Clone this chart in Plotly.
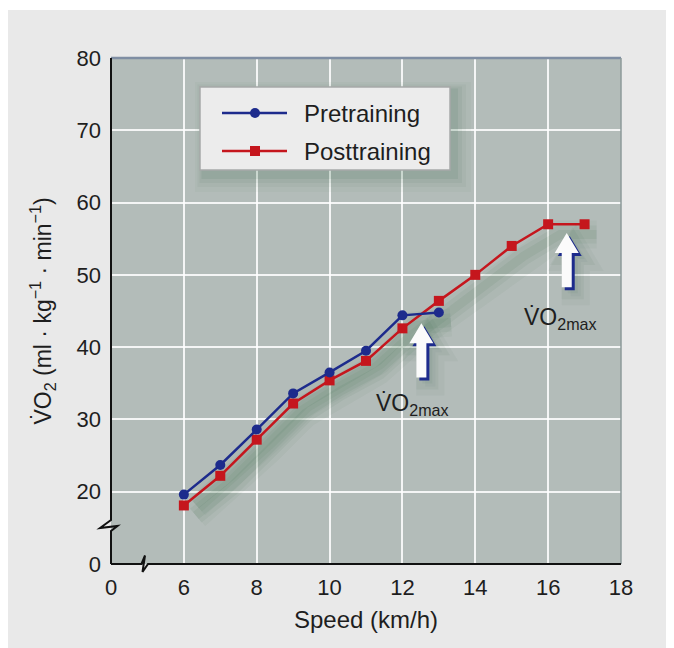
import plotly.graph_objects as go

# ---- data ----
speed_pre = [6, 7, 8, 9, 10, 11, 12, 13]
vo2_pre = [19.6, 23.7, 28.6, 33.6, 36.5, 39.5, 44.4, 44.8]
speed_post = [6, 7, 8, 9, 10, 11, 12, 13, 14, 15, 16, 17]
vo2_post = [18.1, 22.2, 27.2, 32.2, 35.4, 38.1, 42.6, 46.4, 50.0, 54.0, 57.0, 57.0]

x_tickvals = [4, 6, 8, 10, 12, 14, 16, 18]
x_ticktext = ["0", "6", "8", "10", "12", "14", "16", "18"]
y_tickvals = [10, 20, 30, 40, 50, 60, 70, 80]
y_ticktext = ["0", "20", "30", "40", "50", "60", "70", "80"]

vo2max_speed = [12.52, 16.51]
vo2max_tip = [43.3, 55.8]
vo2max_tail = [35.8, 48.3]
label_x = [12.29, 16.35]
label_y = [32.0, 44.0]

series_names = ["Pretraining", "Posttraining"]

# ---- layout geometry (screen px of the reference; page has an 8px body margin) ----
OFF = 8
FW, FH = 666, 640
L, R, T, B = 103, 53, 50, 84
W, H = FW - L - R, FH - T - B
XMIN, XMAX, YMIN, YMAX = 4, 18, 10, 80

BLUE = "#1d2b8c"
RED = "#c5161d"
FONT = "Liberation Sans, Arial, Helvetica, sans-serif"
TXT = "#1e1e1e"


def px2x(p):
    return (p - OFF - L) / W


def py2y(p):
    return (FH - B - (p - OFF)) / H


def dpx(x):
    return OFF + L + (x - XMIN) / (XMAX - XMIN) * W


def dpy(y):
    return OFF + T + (YMAX - y) / (YMAX - YMIN) * H


def path_px(points):
    return "M " + " L ".join(f"{px2x(a):.5f},{py2y(b):.5f}" for a, b in points) + " Z"


def open_path_px(points):
    return "M " + " L ".join(f"{px2x(a):.5f},{py2y(b):.5f}" for a, b in points)


fig = go.Figure()

# soft drop shadows under the lines
for w, a in [(28, 0.035), (18, 0.05), (9, 0.06)]:
    for xs, ys in [(speed_post, vo2_post), (speed_pre, vo2_pre)]:
        fig.add_trace(go.Scatter(
            x=[s + 0.33 for s in xs], y=[v - 1.4 for v in ys], mode="lines",
            line=dict(color=f"rgba(20,80,40,{a})", width=w),
            hoverinfo="skip", showlegend=False))

fig.add_trace(go.Scatter(
    x=speed_post, y=vo2_post, mode="lines+markers", name=series_names[1],
    line=dict(color=RED, width=2.5),
    marker=dict(symbol="square", size=10, color=RED, line=dict(width=0)),
    showlegend=False))
fig.add_trace(go.Scatter(
    x=speed_pre, y=vo2_pre, mode="lines+markers", name=series_names[0],
    line=dict(color=BLUE, width=2.5),
    marker=dict(symbol="circle", size=10, color=BLUE, line=dict(width=0)),
    showlegend=False))

shapes = []

# thin white strip at the top of the page
shapes.append(dict(type="rect", xref="paper", yref="paper", x0=px2x(OFF), x1=px2x(OFF + FW),
                   y0=py2y(OFF), y1=py2y(10), fillcolor="white", line=dict(width=0), layer="below"))

# plot frame: top and right thin borders
shapes.append(dict(type="line", xref="paper", yref="paper", x0=0, x1=1, y0=1, y1=1,
                   line=dict(color="#7f8ea3", width=2.5)))
shapes.append(dict(type="line", xref="paper", yref="paper", x0=1, x1=1, y0=0, y1=1,
                   line=dict(color="#8c9a9a", width=1.5)))

# broken axes
AX, AY = OFF + L, OFF + T + H
shapes.append(dict(type="path", xref="paper", yref="paper",
                   path=open_path_px([(AX, OFF + T), (AX, 520), (100, 528), (117.5, 526), (AX, 531), (AX, AY)]),
                   line=dict(color="#111111", width=2)))
shapes.append(dict(type="path", xref="paper", yref="paper",
                   path=open_path_px([(AX, AY), (141.5, AY), (145, 555.5), (142.5, 572),
                                      (148, AY), (AX + W, AY)]),
                   line=dict(color="#111111", width=2)))

# VO2max arrows
for xv, tip, tail in zip(vo2max_speed, vo2max_tip, vo2max_tail):
    X, Yt, Yb = dpx(xv), dpy(tip), dpy(tail)
    hw, hh, sw = 12, 20, 5
    pts = [(X, Yt), (X + hw, Yt + hh), (X + sw, Yt + hh), (X + sw, Yb),
           (X - sw, Yb), (X - sw, Yt + hh), (X - hw, Yt + hh)]
    for g, a in [(9, 0.04), (6, 0.05)]:
        spts = [(p[0] + g, p[1] + g) for p in pts]
        shapes.append(dict(type="path", xref="paper", yref="paper", path=path_px(spts),
                           fillcolor=f"rgba(20,80,40,{a})",
                           line=dict(width=g * 2, color=f"rgba(20,80,40,{a})")))
    bpts = [(p[0] + 3, p[1] + 3) for p in pts]
    shapes.append(dict(type="path", xref="paper", yref="paper", path=path_px(bpts),
                       fillcolor=BLUE, line=dict(width=0)))
    shapes.append(dict(type="path", xref="paper", yref="paper", path=path_px(pts),
                       fillcolor="#fbfbfb", line=dict(width=0)))

# legend box with shadow
LX0, LY0, LX1, LY1 = 200, 87, 450, 170
for g, a in [(18, 0.03), (13, 0.04), (9, 0.05), (5, 0.07)]:
    shapes.append(dict(type="rect", xref="paper", yref="paper",
                       x0=px2x(LX0 + 4 - g / 2), x1=px2x(LX1 + 3 + g), y0=py2y(LY1 + 4 + g),
                       y1=py2y(LY0 + 4 - g / 2), fillcolor=f"rgba(20,80,40,{a})", line=dict(width=0)))
shapes.append(dict(type="rect", xref="paper", yref="paper",
                   x0=px2x(LX0), x1=px2x(LX1), y0=py2y(LY1), y1=py2y(LY0),
                   fillcolor="#ececec", line=dict(color="#a7a9a9", width=1.5)))

rows = [(113, BLUE, "circle"), (151, RED, "square")]
for (ry, col, sym) in rows:
    shapes.append(dict(type="line", xref="paper", yref="paper", x0=px2x(222), x1=px2x(287),
                       y0=py2y(ry), y1=py2y(ry), line=dict(color=col, width=2.5)))
    r = 5
    shapes.append(dict(type="circle" if sym == "circle" else "rect", xref="paper", yref="paper",
                       x0=px2x(255 - r), x1=px2x(255 + r), y0=py2y(ry + r), y1=py2y(ry - r),
                       fillcolor=col, line=dict(width=0)))

annotations = []
for (ry, _, _), name in zip(rows, series_names):
    annotations.append(dict(xref="paper", yref="paper", x=px2x(302), y=py2y(ry), text=name,
                            showarrow=False, xanchor="left", yanchor="middle",
                            font=dict(family=FONT, size=24, color=TXT)))

for xv, yv in zip(label_x, label_y):
    annotations.append(dict(x=xv, y=yv, xref="x", yref="y",
                            text="V\u0307O<sub>2max</sub>", showarrow=False,
                            xanchor="center", yanchor="middle",
                            font=dict(family=FONT, size=23, color=TXT)))

fig.update_layout(
    width=FW, height=FH,
    margin=dict(l=L, r=R, t=T, b=B, autoexpand=False),
    paper_bgcolor="#e9e9e9",
    plot_bgcolor="#b3bcb9",
    font=dict(family=FONT, color=TXT),
    shapes=shapes,
    annotations=annotations,
    showlegend=False,
    xaxis=dict(
        range=[XMIN, XMAX], tickvals=x_tickvals, ticktext=x_ticktext,
        showgrid=True, gridcolor="rgba(255,255,255,0.85)", gridwidth=2,
        zeroline=False, showline=False, ticks="",
        tickfont=dict(family=FONT, size=22, color=TXT), ticklabelstandoff=8,
        title=dict(text="Speed (km/h)", font=dict(family=FONT, size=24, color=TXT), standoff=12),
        fixedrange=True,
    ),
    yaxis=dict(
        range=[YMIN, YMAX], tickvals=y_tickvals, ticktext=y_ticktext,
        showgrid=True, gridcolor="rgba(255,255,255,0.85)", gridwidth=2,
        zeroline=False, showline=False, ticks="",
        tickfont=dict(family=FONT, size=22, color=TXT), ticklabelstandoff=9,
        title=dict(text="V\u0307O<sub>2</sub> (ml · kg<sup>−1</sup> · min<sup>−1</sup>)",
                   font=dict(family=FONT, size=23, color=TXT), standoff=18),
        fixedrange=True,
    ),
)

fig.write_html("out.html")
